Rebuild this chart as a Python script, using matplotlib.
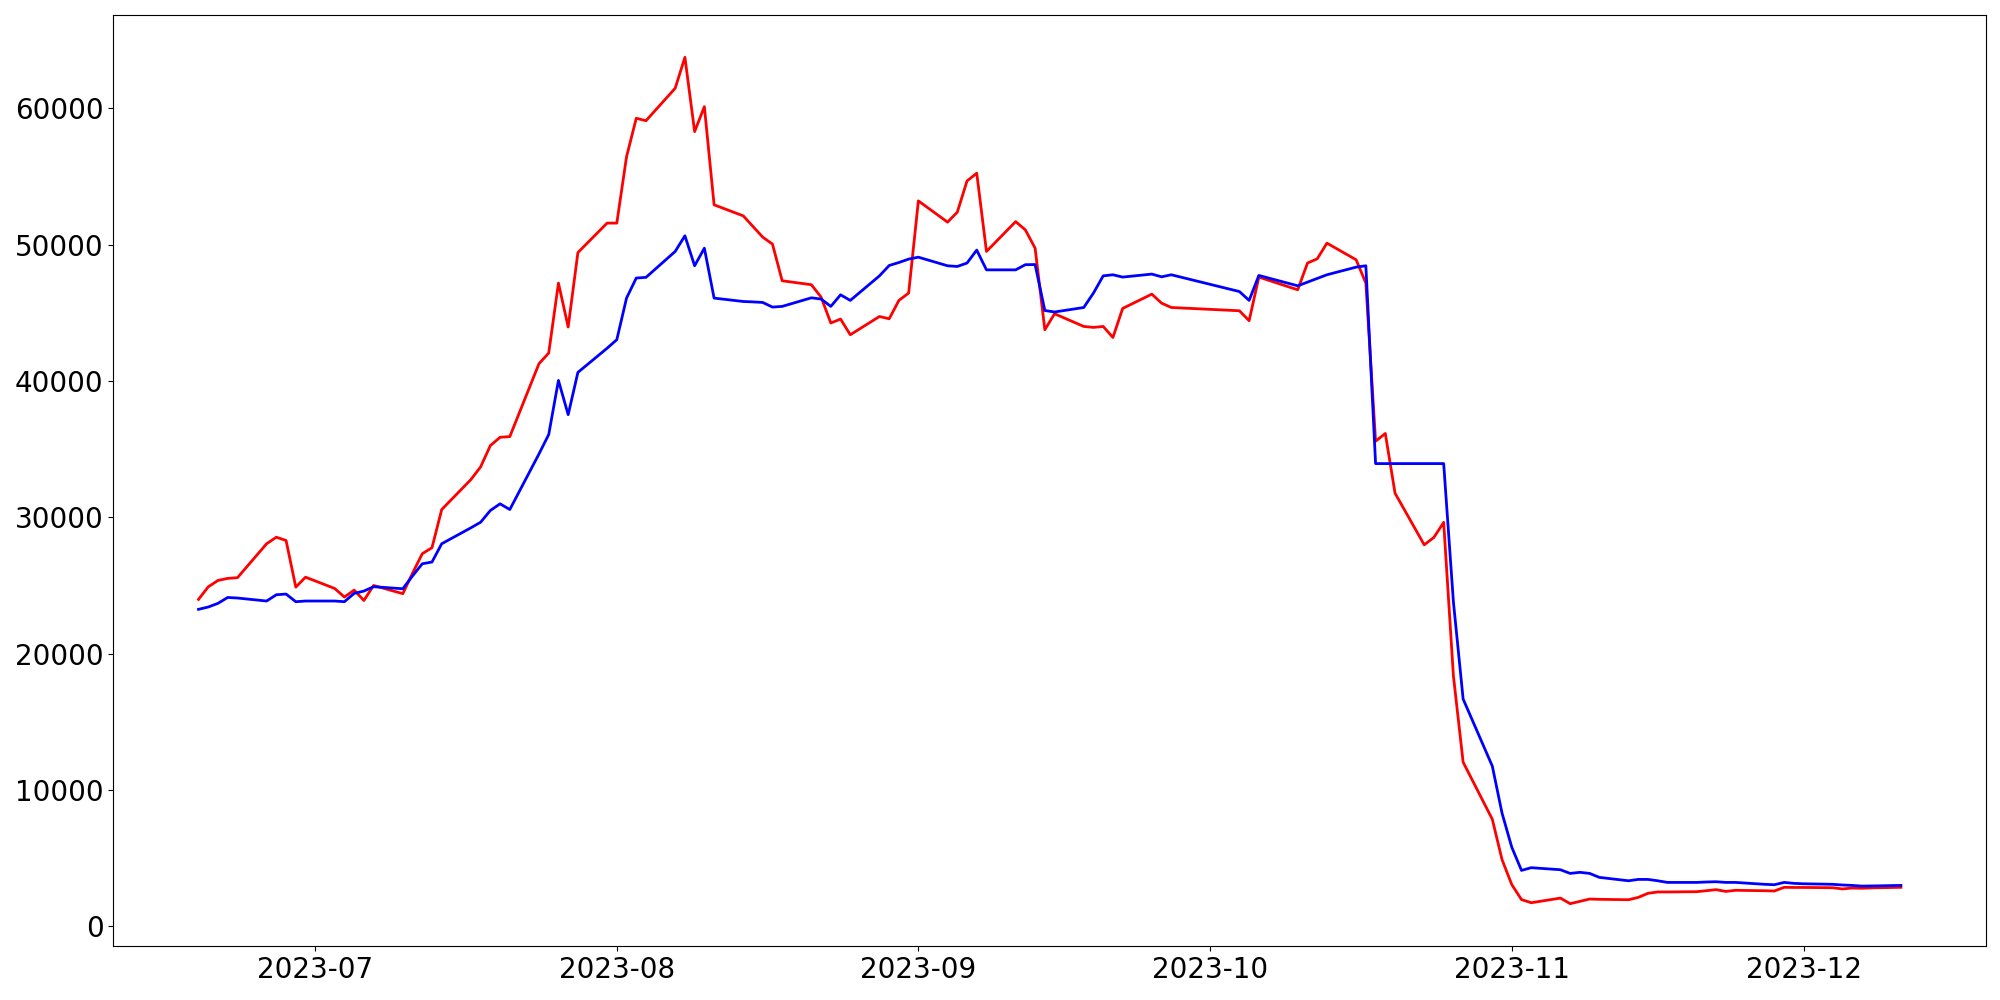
import matplotlib
matplotlib.use("Agg")
import matplotlib.pyplot as plt
import pandas as pd

# fechas (dias habiles con huecos)
dates = [
    "2023-06-19", "2023-06-20", "2023-06-21", "2023-06-22", "2023-06-23",
    "2023-06-26", "2023-06-27", "2023-06-28", "2023-06-29", "2023-06-30",
    "2023-07-03", "2023-07-04", "2023-07-05", "2023-07-06", "2023-07-07",
    "2023-07-10", "2023-07-11", "2023-07-12", "2023-07-13", "2023-07-14",
    "2023-07-17", "2023-07-18", "2023-07-19", "2023-07-20", "2023-07-21",
    "2023-07-24", "2023-07-25", "2023-07-26", "2023-07-27", "2023-07-28",
    "2023-07-31", "2023-08-01", "2023-08-02", "2023-08-03", "2023-08-04",
    "2023-08-07", "2023-08-08", "2023-08-09", "2023-08-10", "2023-08-11",
    "2023-08-14", "2023-08-15", "2023-08-16", "2023-08-17", "2023-08-18",
    "2023-08-21", "2023-08-22", "2023-08-23", "2023-08-24", "2023-08-25",
    "2023-08-28", "2023-08-29", "2023-08-30", "2023-08-31", "2023-09-01",
    "2023-09-04", "2023-09-05", "2023-09-06", "2023-09-07", "2023-09-08",
    "2023-09-11", "2023-09-12", "2023-09-13", "2023-09-14", "2023-09-15",
    "2023-09-18", "2023-09-19", "2023-09-20", "2023-09-21", "2023-09-22",
    "2023-09-25", "2023-09-26", "2023-09-27",
    "2023-10-04", "2023-10-05", "2023-10-06",
    "2023-10-09", "2023-10-10", "2023-10-11", "2023-10-12", "2023-10-13",
    "2023-10-16", "2023-10-17", "2023-10-18", "2023-10-19", "2023-10-20",
    "2023-10-23", "2023-10-24", "2023-10-25", "2023-10-26", "2023-10-27",
    "2023-10-30", "2023-10-31", "2023-11-01", "2023-11-02", "2023-11-03",
    "2023-11-06", "2023-11-07", "2023-11-08", "2023-11-09", "2023-11-10",
    "2023-11-13", "2023-11-14", "2023-11-15", "2023-11-16", "2023-11-17",
    "2023-11-20", "2023-11-21", "2023-11-22", "2023-11-23", "2023-11-24",
    "2023-11-27", "2023-11-28", "2023-11-29", "2023-11-30", "2023-12-01",
    "2023-12-04", "2023-12-05", "2023-12-06", "2023-12-07", "2023-12-08",
    "2023-12-11",
]

# serie roja
red = [
    23980, 24900, 25370, 25520, 25570,
    28060, 28540, 28300, 24880, 25610,
    24780, 24150, 24660, 23900, 25000,
    24400, 25900, 27330, 27770, 30570,
    32770, 33700, 35260, 35870, 35920,
    41270, 42050, 47180, 43960, 49420,
    51580, 51580, 56450, 59270, 59090,
    61470, 63740, 58290, 60120, 52920,
    52110, 51330, 50550, 50040, 47350,
    47060, 46150, 44250, 44540, 43390,
    44730, 44560, 45910, 46450, 53210,
    51650, 52380, 54670, 55240, 49500,
    51690, 51080, 49740, 43760, 44930,
    44000, 43930, 44000, 43190, 45320,
    46370, 45710, 45390,
    45150, 44420, 47620,
    46920, 46690, 48650, 48960, 50110,
    48890, 47180, 35580, 36150, 31770,
    27980, 28530, 29630, 18370, 12040,
    7850, 4890, 3060, 1960, 1730,
    2070, 1660, 1830, 2000, 1980,
    1950, 2120, 2420, 2520, 2520,
    2540, 2610, 2690, 2560, 2640,
    2610, 2590, 2860, 2850, 2850,
    2830, 2740, 2810, 2790, 2820,
    2860,
]

# serie azul
blue = [
    23250, 23420, 23690, 24120, 24080,
    23860, 24320, 24370, 23810, 23860,
    23860, 23810, 24420, 24590, 24910,
    24760, 25700, 26590, 26720, 28060,
    29230, 29640, 30500, 30990, 30570,
    34650, 36070, 40040, 37530, 40630,
    42400, 43030, 46080, 47550, 47600,
    49500, 50650, 48450, 49740, 46080,
    45830, 45800, 45760, 45420, 45470,
    46100, 46010, 45470, 46320, 45910,
    47710, 48470, 48690, 48940, 49080,
    48450, 48400, 48650, 49600, 48150,
    48150, 48530, 48540, 45170, 45060,
    45390, 46450, 47710, 47790, 47620,
    47840, 47640, 47790,
    46560, 45910, 47740,
    47170, 46980, 47250, 47520, 47790,
    48350, 48450, 33940, 33940, 33940,
    33940, 33940, 33940, 23800, 16670,
    11750, 8300, 5800, 4100, 4300,
    4150, 3880, 3960, 3880, 3590,
    3340, 3440, 3440, 3340, 3220,
    3220, 3250, 3270, 3220, 3220,
    3080, 3050, 3220, 3150, 3120,
    3080, 3030, 3000, 2950, 2960,
    3000,
]

x = pd.to_datetime(dates)

fig, ax = plt.subplots(figsize=(20, 10), dpi=100)
ax.plot(x, red, color="red", linewidth=2)
ax.plot(x, blue, color="blue", linewidth=2)
ax.tick_params(axis="both", labelsize=20)

fig.subplots_adjust(left=0.0567, right=0.993, top=0.985, bottom=0.054)
fig.savefig("out.png")
